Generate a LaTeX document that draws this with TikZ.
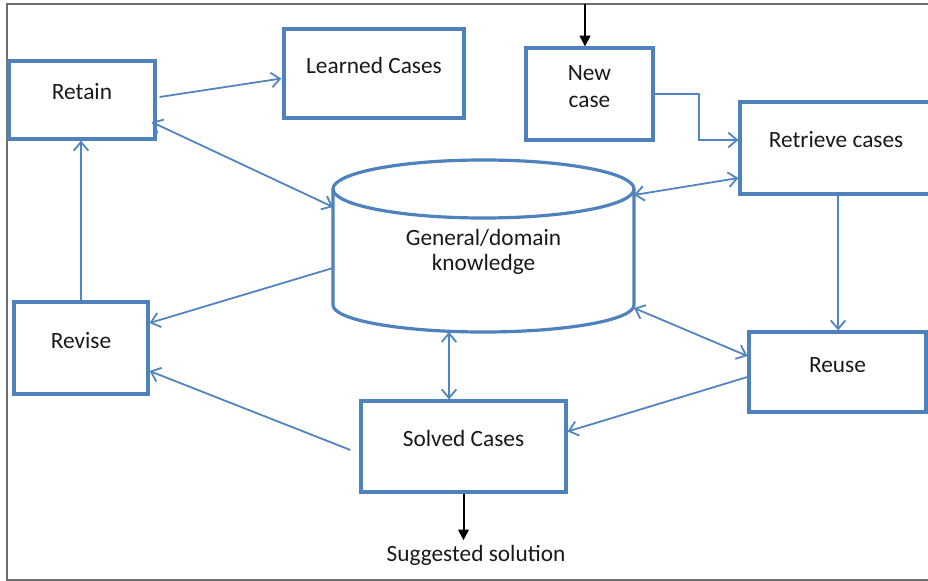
\documentclass[tikz,border=0pt]{standalone}
\usepackage{fontspec}
\setmainfont{Carlito}
\usetikzlibrary{arrows.meta,calc}
\definecolor{steel}{RGB}{79,129,189}
\definecolor{wire}{RGB}{82,132,194}
\definecolor{ink}{RGB}{25,25,25}
\definecolor{rim}{RGB}{110,110,110}
\tikzset{
  >={Straight Barb[length=6.5pt,width=11pt]},
  stage/.style={draw=steel,line width=2.4pt,minimum width=#1,inner sep=0pt,
    font=\fontsize{17.5}{20}\selectfont,text=ink,align=center},
  one line/.style={text height=12pt,text depth=12pt},
  link/.style={draw=wire,line width=1.35pt},
  feed/.style={draw=black,line width=1.5pt,-{Triangle[length=8pt,width=8pt]}},
  caption/.style={font=\fontsize{17.5}{19}\selectfont,text=ink,align=center},
}

\begin{document}
\begin{tikzpicture}[x=0.75pt,y=-0.75pt]
  \useasboundingbox (0,0) rectangle (928,581);
  \draw[rim,line width=1.2pt] (932,4) -- (7,4) -- (7,580) -- (932,580);
  % stages of the cycle
  \foreach \n/\x/\y/\w/\h/\t in {retain/82/100/109.5pt/58.5pt/Retain,
      learned/374/73.5/135pt/66.75pt/Learned Cases,
      retrieve/836/148/144pt/69pt/Retrieve cases,
      revise/81/348/100.5pt/69pt/Revise,
      solved/463.5/446.5/153.75pt/68.25pt/Solved Cases,
      reuse/837.5/372/132.75pt/60pt/Reuse}{
    \node[stage=\w,one line,minimum height=\h] (\n) at (\x,\y) {\t};
  }
  \node[stage=95.25pt,minimum height=69pt,text depth=11pt] (newcase) at (589.5,94) {New\\case};
  % knowledge base
  \draw[steel,line width=2.4pt] (483.5,189) ellipse [x radius=150.5,y radius=29];
  \draw[steel,line width=2.4pt] (333,189) -- (333,305)
    arc[start angle=180,end angle=0,x radius=150.5,y radius=27] -- (634,189);
  \node[caption] (kb) at (483.5,252) {General/domain\\knowledge};
  \coordinate (kb-nw) at (333,207);
  \coordinate (kb-w) at (333,268);
  \coordinate (kb-ne) at (634,195);
  \coordinate (kb-se) at (634,308);
  \coordinate (kb-s) at (449,332);
  % connectors
  \draw[link,->] ($(retain.east)+(3,-3)$) -- ($(learned.west)+(-1,5)$);
  \draw[link,<->] ($(retain.east)+(-5,22)$) -- (kb-nw);
  \draw[link,->] (revise.north) -- (retain.south -| revise.north);
  \draw[link,->] (kb-w) -- ($(revise.east)+(0,-25)$);
  \draw[link,->] ($(solved.west)+(-9,3.5)$) -- ($(revise.east)+(0,23)$);
  \draw[link,<->] (kb-s) -- (solved.north -| kb-s);
  \draw[link,<->] (kb-se) -- ($(reuse.west)+(0,-16)$);
  \draw[link,->] ($(reuse.west)+(0,5)$) -- ($(solved.east)+(0,-15)$);
  \draw[link,->] ($(retrieve.south -| reuse.north)+(0.6,0)$) -- ($(reuse.north)+(0.6,0)$);
  \draw[link,<->] (kb-ne) -- ($(retrieve.west)+(0,30)$);
  \draw[link,->] (newcase.east) -- ++(44,0) |- ($(retrieve.west)+(0,-8)$);
  % input and output
  \coordinate (entry) at (585,4);
  \draw[feed] (entry) -- (entry |- newcase.north);
  \node[caption] (answer) at (476,555) {Suggested solution};
  \draw[feed] (solved.south) -- (solved.south |- answer.north);
\end{tikzpicture}
\end{document}
